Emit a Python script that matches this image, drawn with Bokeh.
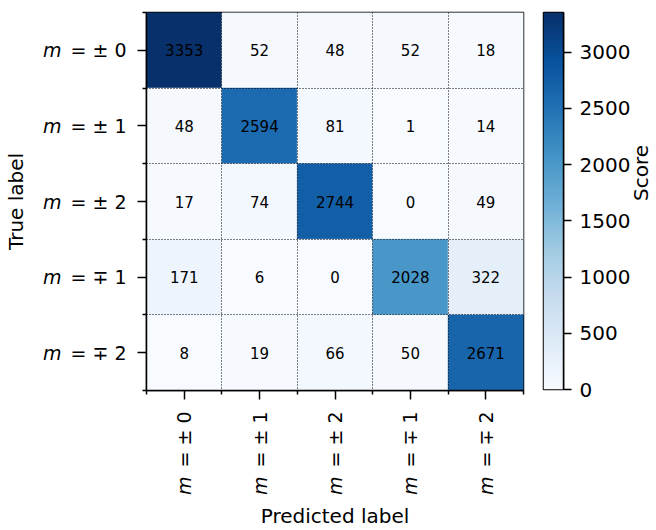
import math
import numpy as np
from bokeh.plotting import figure
from bokeh.models import ColumnDataSource, LinearColorMapper, FixedTicker, Range1d, LinearAxis
from bokeh.layouts import row
from bokeh.palettes import Blues256
from bokeh.embed import file_html
from bokeh.resources import INLINE
from bokeh.core.properties import value

# ---- data ----
class_signs = ["± 0", "± 1", "± 2", "∓ 1", "∓ 2"]   # labels are "m = <sign>"
row_pm0 = [3353, 52, 48, 52, 18]
row_pm1 = [48, 2594, 81, 1, 14]
row_pm2 = [17, 74, 2744, 0, 49]
row_mp1 = [171, 6, 0, 2028, 322]
row_mp2 = [8, 19, 66, 50, 2671]
matrix = [row_pm0, row_pm1, row_pm2, row_mp1, row_mp2]
colorbar_ticks = [0, 500, 1000, 1500, 2000, 2500, 3000]

FONT = "DejaVu Sans"
n = len(class_signs)
vmax = max(max(r) for r in matrix)
mapper = LinearColorMapper(palette=list(Blues256)[::-1], low=0, high=vmax)

xs, ys, vals = [], [], []
for i, r in enumerate(matrix):
    for j, v in enumerate(r):
        xs.append(j + 0.5)
        ys.append(i + 0.5)
        vals.append(v)
src = ColumnDataSource(dict(x=xs, y=ys, v=vals, t=[str(v) for v in vals]))

centers = [k + 0.5 for k in range(n)]
bounds = list(range(n + 1))

TOP = 12
FRAME_H = 378
p = figure(frame_width=377, frame_height=FRAME_H, x_range=Range1d(0, n), y_range=Range1d(n, 0),
           output_backend="svg", toolbar_location=None,
           min_border_left=143, min_border_top=TOP, min_border_right=14, min_border_bottom=0)
p.rect(x="x", y="y", width=1, height=1, source=src,
       fill_color={"field": "v", "transform": mapper},
       line_color={"field": "v", "transform": mapper}, line_width=0.5)
p.text(x="x", y="y", text="t", source=src, text_align="center", text_baseline="middle",
       text_font=value(FONT), text_font_size="15px", text_color="black")

p.outline_line_color = "black"
p.outline_line_width = 1.5

# grid at cell boundaries, dotted, drawn above cells
for g in (p.xgrid, p.ygrid):
    g.ticker = FixedTicker(ticks=bounds[1:-1])
    g.grid_line_color = "black"
    g.grid_line_dash = "1 2"
    g.grid_line_width = 1
    g.level = "overlay"

def style_inner(ax, orient, standoff):
    ax.ticker = FixedTicker(ticks=centers, minor_ticks=bounds)
    ax.major_label_overrides = {c: "= " + s for c, s in zip(centers, class_signs)}
    ax.major_tick_out = 9
    ax.major_tick_in = 0
    ax.minor_tick_out = 4
    ax.minor_tick_in = 0
    ax.major_tick_line_width = 1.5
    ax.minor_tick_line_width = 1.5
    ax.axis_line_width = 1.5
    ax.major_label_standoff = standoff
    ax.major_label_text_font = FONT
    ax.major_label_text_font_size = "19px"
    ax.major_label_text_color = "black"
    if orient is not None:
        ax.major_label_orientation = orient

style_inner(p.yaxis[0], None, 11)
style_inner(p.xaxis[0], math.pi / 2, 12)

def outer_axis(label, orient, standoff, label_standoff):
    ax = LinearAxis(ticker=FixedTicker(ticks=centers),
                    major_label_overrides={c: "m" for c in centers})
    ax.major_label_text_font_style = "italic"
    ax.major_label_text_font = FONT
    ax.major_label_text_font_size = "19px"
    ax.major_label_text_color = "black"
    ax.major_tick_out = 0
    ax.major_tick_in = 0
    ax.minor_tick_out = 0
    ax.minor_tick_in = 0
    ax.axis_line_color = None
    ax.major_label_standoff = standoff
    ax.axis_label = label
    ax.axis_label_standoff = label_standoff
    ax.axis_label_text_font = FONT
    ax.axis_label_text_font_size = "20px"
    ax.axis_label_text_font_style = "normal"
    ax.axis_label_text_color = "black"
    if orient is not None:
        ax.major_label_orientation = orient
    return ax

p.add_layout(outer_axis("True label", None, 6, 12), "left")
p.add_layout(outer_axis("Predicted label", math.pi / 2, 6, 6), "below")

# ---- colorbar figure ----
cb = figure(frame_width=20, frame_height=FRAME_H - 1, x_range=Range1d(0, 1), y_range=Range1d(0, vmax),
            output_backend="svg", toolbar_location=None, y_axis_location="right",
            min_border_left=6, min_border_top=TOP, min_border_right=0, min_border_bottom=14)
grad = np.linspace(0, vmax, 256).reshape(256, 1)
cb.image(image=[grad], x=0, y=0, dw=1, dh=vmax, color_mapper=mapper)
cb.xaxis.visible = False
cb.grid.visible = False
cb.outline_line_color = "black"
cb.outline_line_width = 1.5
ay = cb.yaxis[0]
ay.ticker = FixedTicker(ticks=colorbar_ticks)
ay.major_tick_out = 8
ay.major_tick_in = 0
ay.minor_tick_out = 0
ay.minor_tick_in = 0
ay.major_tick_line_width = 1.5
ay.axis_line_width = 1.5
ay.major_label_standoff = 8
ay.major_label_text_font = FONT
ay.major_label_text_font_size = "20px"
ay.major_label_text_color = "black"

# title axis: rotated "Score" reading upward; its text starts at the axis-extent
# centre, so the extent is shifted down by half the text length to centre it
half_text_px = 26
shift = half_text_px * vmax / (FRAME_H - 1)
title_ax = LinearAxis(ticker=FixedTicker(ticks=[]), bounds=(0, vmax - 2 * shift))
title_ax.axis_line_color = None
title_ax.major_tick_out = 0
title_ax.major_tick_in = 0
title_ax.minor_tick_out = 0
title_ax.minor_tick_in = 0
title_ax.major_label_standoff = 0
title_ax.axis_label = "Score"
title_ax.axis_label_standoff = 7
title_ax.axis_label_text_font = FONT
title_ax.axis_label_text_font_size = "20px"
title_ax.axis_label_text_font_style = "normal"
title_ax.axis_label_text_color = "black"
if hasattr(title_ax, "axis_label_orientation"):
    title_ax.axis_label_orientation = math.pi / 2
cb.add_layout(title_ax, "right")

layout = row(p, cb, spacing=0)
open("out.html", "w").write(file_html(layout, INLINE))
